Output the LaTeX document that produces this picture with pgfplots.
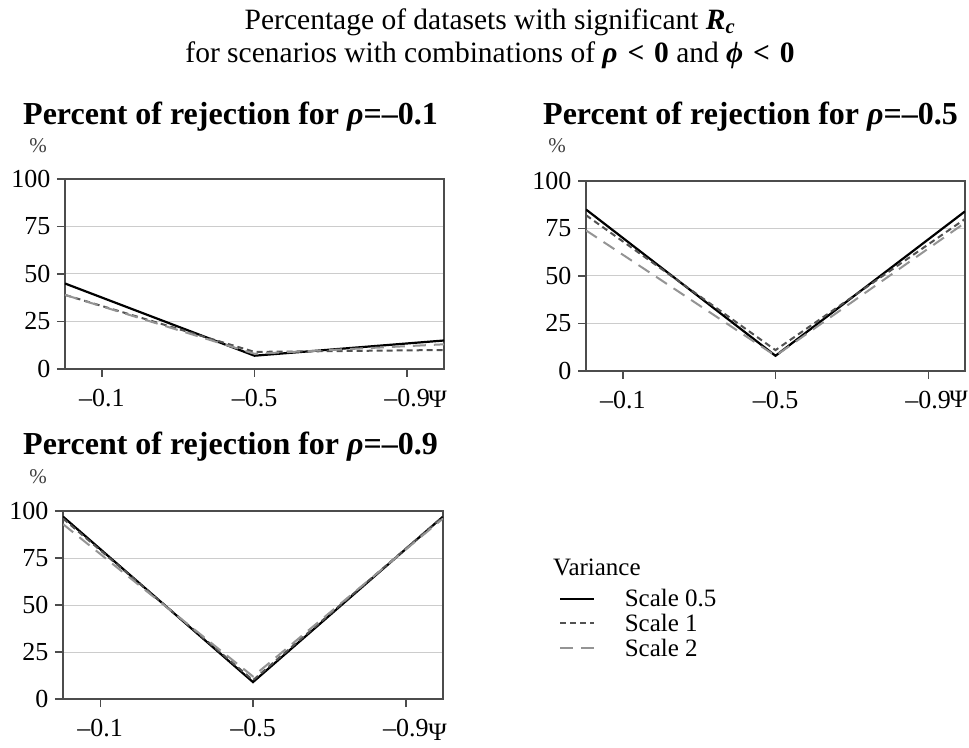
\documentclass[border=0pt]{standalone}
\usepackage{fontspec}
\setmainfont{Liberation Serif}
\usepackage{pgfplots}
\pgfplotsset{compat=1.18}

\pgfplotsset{
  panel/.style={
    scale only axis, width=379pt, height=190pt,
    xmin=0, xmax=2, ymin=0, ymax=100,
    xtick={0.195,1,1.805}, xticklabels={–0.1,–0.5,–0.9},
    ytick={0,25,50,75,100},
    ymajorgrids, grid style={black!20, line width=1pt},
    axis line style={black!70, line width=1.1pt},
    tick style={black!70, line width=1.1pt},
    tick align=outside, major tick length=8pt,
    xtick pos=bottom, ytick pos=left,
    ticklabel style={font=\fontsize{26}{28}\selectfont},
    xticklabel style={yshift=-9pt},
    yticklabel style={xshift=-3pt},
    /pgf/number format/assume math mode=true,
  },
  s05/.style={black, line width=2.2pt},
  s1/.style={black!68, line width=2pt, dash pattern=on 6pt off 4pt},
  s2/.style={black!42, line width=2pt, dash pattern=on 13pt off 8pt},
}

\begin{document}
\begin{tikzpicture}[x=1pt,y=1pt]
\useasboundingbox (0,0) rectangle (969,747);

% main title
\node[anchor=base, font=\fontsize{29.5}{32}\selectfont] at (490,717)
  {Percentage of datasets with significant \textbf{\textit{R}\textsubscript{\textit{c}}}};
\node[anchor=base, font=\fontsize{29.5}{32}\selectfont] at (490,684)
  {for scenarios with combinations of \textbf{\textit{ρ}\,\,<\,\,0} and \textbf{\textit{ϕ}\,\,<\,\,0}};

% panel titles
\node[anchor=base west, inner sep=0, font=\fontsize{32}{35}\bfseries] at (23,622)
  {Percent of rejection for \textit{ρ}=–0.1};
\node[anchor=base west, inner sep=0, font=\fontsize{32}{35}\bfseries] at (543,622)
  {Percent of rejection for \textit{ρ}=–0.5};
\node[anchor=base west, inner sep=0, font=\fontsize{32}{35}\bfseries] at (23,292)
  {Percent of rejection for \textit{ρ}=–0.9};

% percent signs
\node[font=\fontsize{21}{23}\selectfont, text=black!75] at (38,601) {\%};
\node[font=\fontsize{21}{23}\selectfont, text=black!75] at (557,601) {\%};
\node[font=\fontsize{21}{23}\selectfont, text=black!75] at (38,270) {\%};

% Psi labels
\node[anchor=base east, inner sep=0, font=\fontsize{25}{27}\selectfont] at (447,339) {Ψ};
\node[anchor=base east, inner sep=0, font=\fontsize{25}{27}\selectfont] at (968,339) {Ψ};
\node[anchor=base east, inner sep=0, font=\fontsize{25}{27}\selectfont] at (447,7) {Ψ};

% legend title
\node[anchor=base west, inner sep=0, font=\fontsize{25}{27}\selectfont] at (553,171) {Variance};

\begin{axis}[panel, at={(65pt,378pt)}, anchor=south west]
\addplot[s05] coordinates {(0,45) (1,7) (2,15)};
\addplot[s1]  coordinates {(0,39) (1,9) (2,10)};
\addplot[s2]  coordinates {(0,39) (1,8) (2,13)};
\end{axis}

\begin{axis}[panel, at={(586pt,376pt)}, anchor=south west]
\addplot[s05] coordinates {(0,85) (1,8) (2,84)};
\addplot[s1]  coordinates {(0,82) (1,11) (2,80)};
\addplot[s2]  coordinates {(0,74) (1,8) (2,78)};
\end{axis}

\begin{axis}[panel, width=380pt, height=188pt, at={(63pt,48pt)}, anchor=south west,
  legend style={at={(rel axis cs:1.305,0.593)}, anchor=north west, draw=none, fill=none,
    inner sep=0pt, font=\fontsize{25}{26}\selectfont, row sep=3pt,
    nodes={inner sep=1.5pt},
    /tikz/every odd column/.append style={column sep=28pt}},
  legend cell align=left,
  legend image code/.code={\draw[#1] (0pt,0pt) -- (34pt,0pt);}]
\addplot[s05] coordinates {(0,97) (1,9) (2,97)};
\addplot[s1]  coordinates {(0,96) (1,10) (2,97)};
\addplot[s2]  coordinates {(0,93) (1,12) (2,96)};
\legend{Scale 0.5, Scale 1, Scale 2}
\end{axis}
\end{tikzpicture}
\end{document}
